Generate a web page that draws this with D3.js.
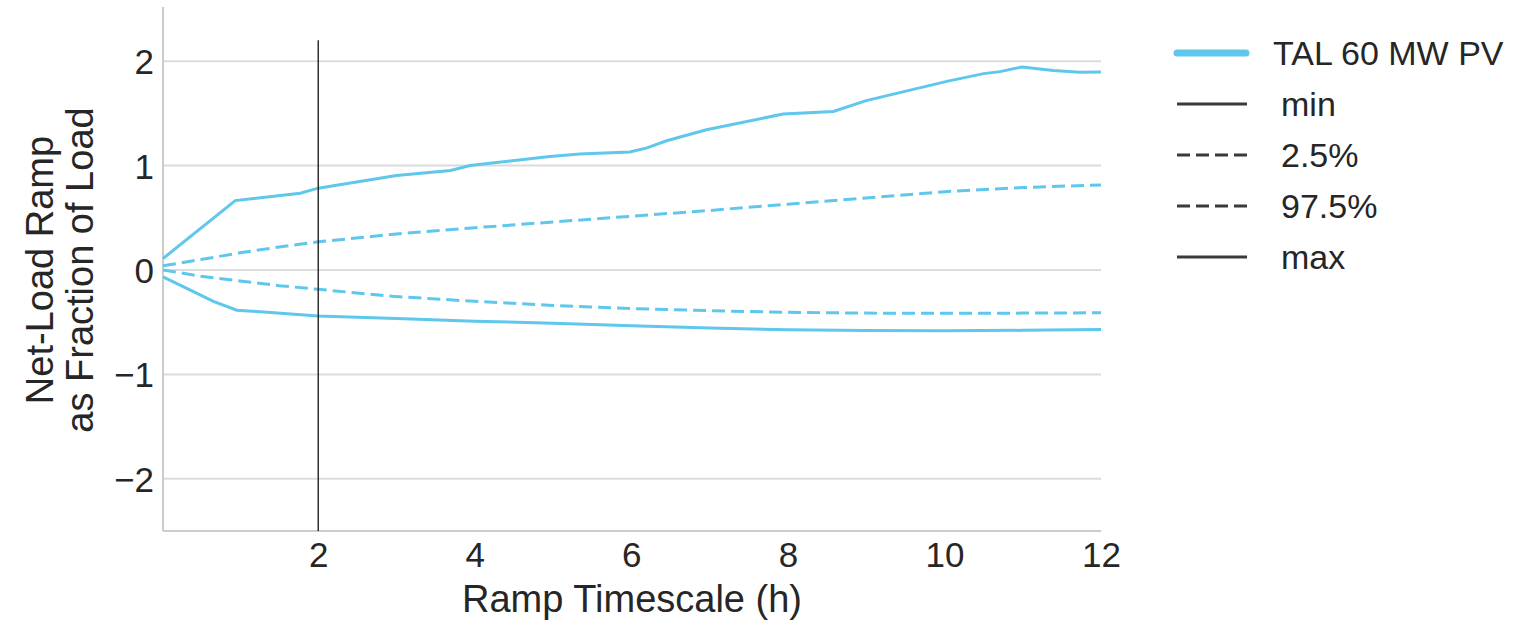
<!DOCTYPE html>
<html>
<head>
<meta charset="utf-8">
<script src="https://cdn.jsdelivr.net/npm/d3@7"></script>
<style>
  html, body { margin: 0; padding: 0; background: #ffffff; }
  svg { display: block; }
  text { font-family: "Liberation Sans", Arial, sans-serif; fill: #262626; }
</style>
</head>
<body>
<svg id="chart" width="1524" height="620"></svg>
<script>
// Ramp timescale (hours) and net-load ramp (fraction of load) for each statistic
const seriesName = "TAL 60 MW PV";

const maxHours = [1/60, 0.94, 1.77, 2.0, 3.0, 3.69, 3.94, 4.96, 5.34, 5.98, 6.2, 6.45, 6.96, 7.94, 8.58, 9.0, 10.03, 10.5, 10.71, 10.99, 11.39, 11.73, 12];
const maxValues = [0.11, 0.665, 0.736, 0.784, 0.905, 0.953, 1.0, 1.087, 1.11, 1.13, 1.17, 1.238, 1.344, 1.494, 1.519, 1.622, 1.807, 1.881, 1.9, 1.945, 1.91, 1.893, 1.897];

const minHours = [1/60, 0.36, 0.66, 0.96, 1.26, 2, 3, 4, 5, 6, 7, 8, 9, 10, 11, 12];
const minValues = [-0.065, -0.19, -0.30, -0.385, -0.40, -0.44, -0.465, -0.49, -0.51, -0.535, -0.555, -0.572, -0.58, -0.583, -0.578, -0.57];

const pctHours = [1/60, 0.5, 1, 1.5, 2, 3, 4, 5, 6, 7, 8, 9, 10, 11, 12];
const p975Values = [0.04, 0.10, 0.165, 0.22, 0.27, 0.345, 0.405, 0.46, 0.515, 0.57, 0.63, 0.69, 0.75, 0.79, 0.815];
const p025Values = [0.0, -0.06, -0.105, -0.15, -0.185, -0.255, -0.30, -0.34, -0.37, -0.39, -0.405, -0.413, -0.415, -0.413, -0.41];

const xTicks = [2, 4, 6, 8, 10, 12];
const yTicks = [-2, -1, 0, 1, 2];
const markerHour = 2;
const markerTop = 2.2;

const legendLabels = ["min", "2.5%", "97.5%", "max"];
const legendDashed = [false, true, true, false];

// Layout
const plot = { left: 163, right: 1101, top: 9, bottom: 531 };
const lineColor = "#5fc7ec";

const svg = d3.select("#chart");
svg.append("rect").attr("width", 1524).attr("height", 620).attr("fill", "#ffffff");

const x = d3.scaleLinear().domain([1/60, 12]).range([plot.left, plot.right]);
const y = d3.scaleLinear().domain([-2.5, 2.5]).range([plot.bottom, plot.top]);

// Horizontal grid
svg.append("g")
  .selectAll("line")
  .data(yTicks)
  .join("line")
  .attr("x1", plot.left).attr("x2", plot.right)
  .attr("y1", d => y(d)).attr("y2", d => y(d))
  .attr("stroke", "#dcdcdc").attr("stroke-width", 2);

// Axes (no tick marks, labels only)
const yAxis = svg.append("g")
  .attr("transform", `translate(${plot.left},0)`)
  .call(d3.axisLeft(y).tickValues(yTicks).tickSize(0).tickFormat(d => d < 0 ? "\u2212" + Math.abs(d) : String(d)));
yAxis.select(".domain").remove();
yAxis.selectAll("text")
  .attr("font-size", 35)
  .attr("text-anchor", "end")
  .attr("x", -9)
  .attr("dy", 12.5)
  .attr("fill", "#262626");

const xAxis = svg.append("g")
  .attr("transform", `translate(0,${plot.bottom})`)
  .call(d3.axisBottom(x).tickValues(xTicks).tickSize(0).tickFormat(d3.format("d")));
xAxis.select(".domain").remove();
xAxis.selectAll(".tick text")
  .attr("font-size", 35)
  .attr("y", 36)
  .attr("dy", 0)
  .attr("fill", "#262626");

// Spines
svg.append("line")
  .attr("x1", plot.left).attr("x2", plot.left)
  .attr("y1", plot.top - 2).attr("y2", plot.bottom)
  .attr("stroke", "#cccccc").attr("stroke-width", 2);
svg.append("line")
  .attr("x1", plot.left).attr("x2", plot.right)
  .attr("y1", plot.bottom).attr("y2", plot.bottom)
  .attr("stroke", "#cccccc").attr("stroke-width", 2);

// Data lines
const line = d3.line().x(d => x(d[0])).y(d => y(d[1]));
const series = [
  { hours: minHours, values: minValues, dashed: false },
  { hours: pctHours, values: p025Values, dashed: true },
  { hours: pctHours, values: p975Values, dashed: true },
  { hours: maxHours, values: maxValues, dashed: false }
];
svg.append("g")
  .selectAll("path")
  .data(series)
  .join("path")
  .attr("d", s => line(s.hours.map((h, i) => [h, s.values[i]])))
  .attr("fill", "none")
  .attr("stroke", lineColor)
  .attr("stroke-width", 3)
  .attr("stroke-dasharray", s => s.dashed ? "13,6" : null);

// Vertical reference line at 2 h
svg.append("line")
  .attr("x1", x(markerHour)).attr("x2", x(markerHour))
  .attr("y1", y(markerTop)).attr("y2", y(-2.5))
  .attr("stroke", "#222222").attr("stroke-width", 1.4);

// Axis titles
svg.append("text")
  .attr("transform", `translate(${(plot.left + plot.right) / 2},612)`)
  .attr("text-anchor", "middle")
  .attr("font-size", 38)
  .text("Ramp Timescale (h)");
svg.append("text")
  .attr("transform", "translate(53,270) rotate(-90)")
  .attr("text-anchor", "middle")
  .attr("font-size", 38)
  .text("Net-Load Ramp");
svg.append("text")
  .attr("transform", "translate(93,270) rotate(-90)")
  .attr("text-anchor", "middle")
  .attr("font-size", 38)
  .text("as Fraction of Load");

// Legend
const legend = svg.append("g");
const legendY0 = 53, legendStep = 51;
legend.append("line")
  .attr("x1", 1177).attr("x2", 1246)
  .attr("y1", legendY0).attr("y2", legendY0)
  .attr("stroke", lineColor).attr("stroke-width", 7).attr("stroke-linecap", "round");
legend.append("text")
  .attr("x", 1273).attr("y", legendY0 + 12)
  .attr("font-size", 34)
  .text(seriesName);

const entries = legend.selectAll("g.entry")
  .data(legendLabels.map((l, i) => ({ label: l, dashed: legendDashed[i], i })))
  .join("g")
  .attr("class", "entry")
  .attr("transform", d => `translate(0,${legendY0 + legendStep * (d.i + 1)})`);
entries.append("line")
  .attr("x1", 1177).attr("x2", 1247)
  .attr("y1", 0).attr("y2", 0)
  .attr("stroke", "#3a3a3a").attr("stroke-width", 3)
  .attr("stroke-dasharray", d => d.dashed ? "13,6" : null);
entries.append("text")
  .attr("x", 1281).attr("y", 12)
  .attr("font-size", 34)
  .text(d => d.label);
</script>
</body>
</html>
